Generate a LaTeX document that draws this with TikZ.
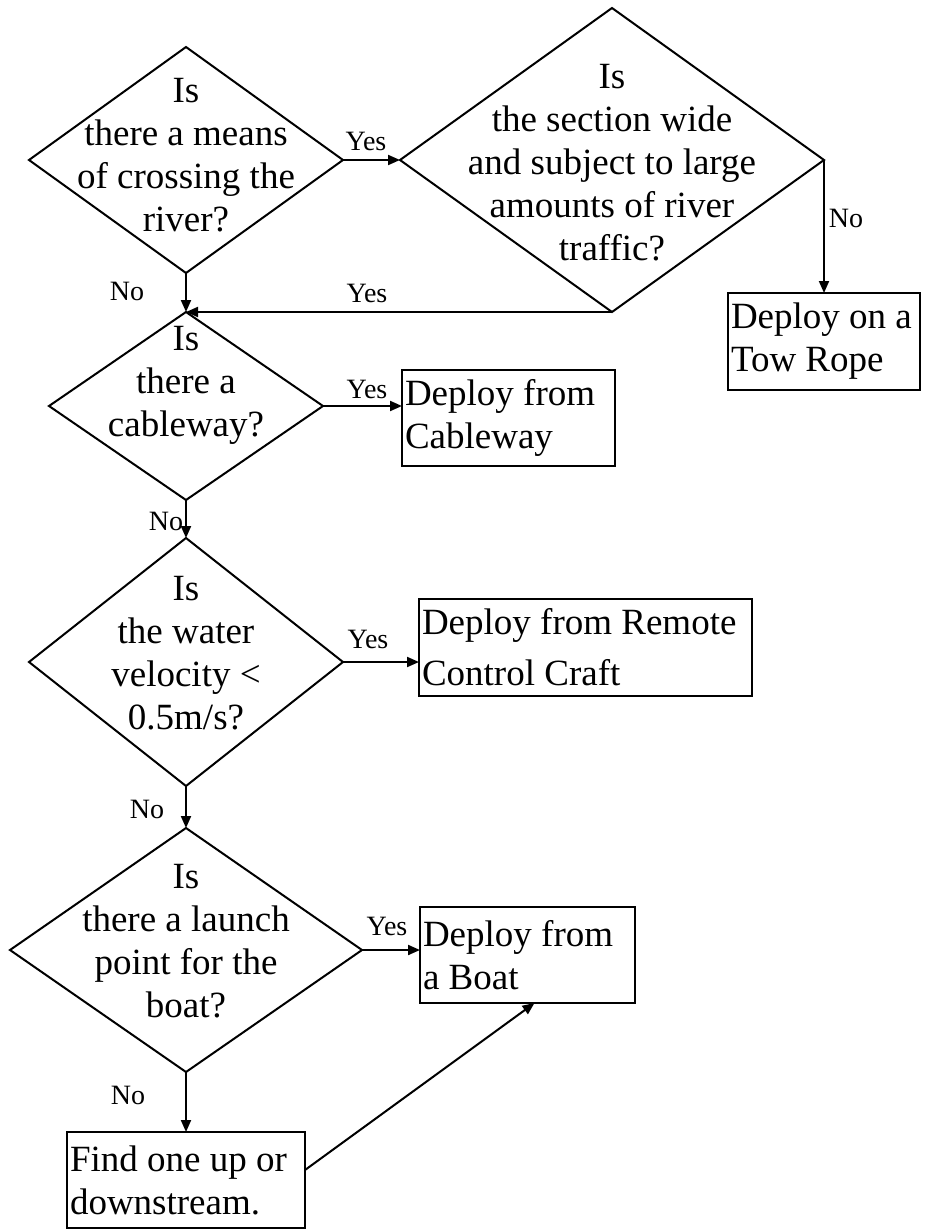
\documentclass[tikz,border=0pt]{standalone}
\usepackage{fontspec}
\setmainfont{Liberation Serif}
\usetikzlibrary{shapes.geometric,arrows.meta}

\begin{document}
\begin{tikzpicture}[x=0.5pt, y=-0.5pt, line width=1pt, >={Triangle[length=6pt,width=5pt]},
  decision/.style={diamond, draw, inner sep=0pt, outer sep=0pt},
  question/.style={anchor=north, align=center, inner sep=0pt, font=\fontsize{18.5}{21.5}\selectfont},
  action/.style={rectangle, draw, align=flush left, inner xsep=1.5pt, inner ysep=0pt, outer sep=0pt, font=\fontsize{18.5}{21.5}\selectfont},
  answer/.style={inner sep=0pt, font=\fontsize{14}{16}\selectfont}]
  \useasboundingbox (0,0) rectangle (927,1230);
  % decisions
  \node[decision, minimum width=157pt, minimum height=113pt] (d1) at (186,160) {};
  \node[decision, minimum width=212pt, minimum height=152pt] (d2) at (612,160) {};
  \node[decision, minimum width=137pt, minimum height=94pt] (d3) at (186,406) {};
  \node[decision, minimum width=157pt, minimum height=124pt] (d4) at (186,662) {};
  \node[decision, minimum width=176pt, minimum height=122pt] (d5) at (186,950) {};
  \node[question] (q1) at (186,77) {Is\\there a means\\of crossing the\\river?};
  \node[question] (q2) at (612,63) {Is\\the section wide\\and subject to large\\amounts of river\\traffic?};
  \node[question] (q3) at (186,325) {Is\\there a\\cableway?};
  \node[question] (q4) at (186,575) {Is\\the water\\velocity <\\0.5m/s?};
  \node[question] (q5) at (186,863) {Is\\there a launch\\point for the\\boat?};
  % actions
  \node[action, text width=93pt, minimum height=48.5pt] (tow) at (824,341.5) {Deploy on a\\Tow Rope};
  \node[action, text width=103.5pt, minimum height=48pt] (cab) at (508.5,418) {Deploy from\\Cableway};
  \node[action, text width=163.5pt, minimum height=48.5pt] (rc) at (585.5,647.5) {Deploy from Remote\\[4pt]Control Craft};
  \node[action, text width=104.5pt, minimum height=48pt] (boat) at (527.5,955) {Deploy from\\a Boat};
  \node[action, text width=116pt, minimum height=48pt] (find) at (186,1180) {Find one up or\\downstream.};
  % connectors
  \draw[->] (d1.east) -- (d2.west);
  \draw[->] (d2.east) -- (tow.north);
  \draw[->] (d2.south) -- (d3.north);
  \draw[->] (d1.south) -- (d3.north);
  \draw[->] (d3.east) -- (d3.east -| cab.west);
  \draw[->] (d3.south) -- (d4.north);
  \draw[->] (d4.east) -- (d4.east -| rc.west);
  \draw[->] (d4.south) -- (d5.north);
  \draw[->] (d5.east) -- (d5.east -| boat.west);
  \draw[->] (d5.south) -- (find.north);
  \draw[->] ([yshift=5pt]find.east) -- ([xshift=3.5pt]boat.south);
  % answers
  \node[answer] (a1) at (366,141) {Yes};
  \node[answer] (a2) at (127,291) {No};
  \node[answer] (a3) at (367,293) {Yes};
  \node[answer] (a4) at (846,218) {No};
  \node[answer] (a5) at (367,389) {Yes};
  \node[answer] (a6) at (166,521) {No};
  \node[answer] (a7) at (368,639) {Yes};
  \node[answer] (a8) at (147,809) {No};
  \node[answer] (a9) at (387,926) {Yes};
  \node[answer] (a10) at (128,1095) {No};
\end{tikzpicture}
\end{document}
